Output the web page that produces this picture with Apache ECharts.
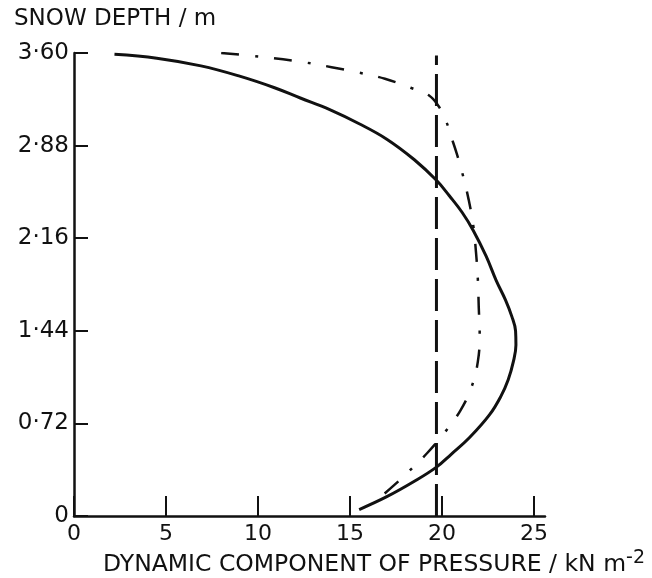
<!DOCTYPE html>
<html>
<head>
<meta charset="utf-8">
<script src="https://cdn.jsdelivr.net/npm/echarts@6/dist/echarts.min.js"></script>
<style>
html, body { margin: 0; padding: 0; background: #fff; }
#main { width: 652px; height: 578px; }
</style>
</head>
<body>
<div id="main"></div>
<script>
// tick values
var xTicks = [0, 5, 10, 15, 20, 25];
var yTicks = [0, 0.72, 1.44, 2.16, 2.88, 3.60];

// solid curve [pressure, depth]
var solidCurve = [
    [2.2, 3.59], [4.5, 3.56], [6.9, 3.50], [9.0, 3.42], [10.9, 3.33],
    [12.3, 3.25], [13.9, 3.16], [15.5, 3.05], [17.0, 2.93], [18.5, 2.77],
    [19.7, 2.61], [20.4, 2.49], [21.1, 2.36], [21.7, 2.22], [22.4, 2.02],
    [22.95, 1.83], [23.45, 1.68], [23.8, 1.55], [24.0, 1.44], [24.02, 1.33],
    [23.88, 1.20], [23.6, 1.06], [23.2, 0.93], [22.6, 0.79], [21.5, 0.61],
    [20.5, 0.48], [19.7, 0.38], [18.5, 0.27], [17.0, 0.15], [15.5, 0.05]
];

// dash-dot curve
var dashDotCurve = [
    [8.0, 3.60], [10.2, 3.57], [12.4, 3.53], [14.0, 3.49], [15.4, 3.45],
    [16.9, 3.40], [18.3, 3.33], [19.3, 3.27], [19.8, 3.19], [20.2, 3.08],
    [20.5, 2.95], [20.8, 2.82], [21.1, 2.67], [21.45, 2.46], [21.7, 2.26],
    [21.85, 2.05], [21.95, 1.84], [22.0, 1.62], [22.05, 1.41], [21.95, 1.20],
    [21.6, 1.00], [21.0, 0.82], [20.15, 0.65], [19.2, 0.49], [18.15, 0.34],
    [17.4, 0.24], [16.6, 0.14]
];

// vertical dashed line
var verticalLine = [[19.7, 0], [19.7, 3.58]];

var dom = document.getElementById("main");
var myChart = echarts.init(dom);
var option = null;

var font = 'DejaVu Sans';

option = {
    backgroundColor: '#fff',
    animation: false,
    title: [{
        text: 'SNOW DEPTH / m',
        left: 9,
        top: 3,
        textStyle: { fontFamily: font, fontWeight: 'normal', fontSize: 23, color: '#111' }
    }, {
        text: 'DYNAMIC COMPONENT OF PRESSURE / kN m{sup|-2}',
        left: 98,
        top: 544,
        textStyle: {
            fontFamily: font, fontWeight: 'normal', fontSize: 23.5, color: '#111',
            rich: {
                sup: { fontFamily: font, fontSize: 19, color: '#111', verticalAlign: 'top', padding: [0, 0, 12, 0] }
            }
        }
    }],
    grid: {
        left: 74,
        top: 53,
        width: 471,
        height: 463
    },
    xAxis: {
        type: 'value',
        min: 0,
        max: 25.6,
        splitLine: { show: false },
        axisLine: { lineStyle: { color: '#111', width: 2.5 } },
        axisTick: {
            inside: true,
            length: 20,
            customValues: xTicks,
            lineStyle: { color: '#111', width: 2 }
        },
        axisLabel: {
            customValues: xTicks,
            fontFamily: font,
            fontSize: 22,
            color: '#111',
            margin: 7
        }
    },
    yAxis: {
        type: 'value',
        min: 0,
        max: 3.6,
        splitLine: { show: false },
        axisLine: { lineStyle: { color: '#111', width: 2.5 } },
        axisTick: {
            inside: true,
            length: 14,
            customValues: yTicks,
            lineStyle: { color: '#111', width: 2 }
        },
        axisLabel: {
            customValues: yTicks,
            fontFamily: font,
            fontSize: 23,
            color: '#111',
            margin: 5,
            formatter: function (v) {
                return v === 0 ? '0' : v.toFixed(2).replace('.', '·');
            }
        }
    },
    series: [{
        name: 'solid',
        type: 'line',
        data: solidCurve,
        smooth: 0.4,
        symbol: 'none',
        lineStyle: { color: '#111', width: 3 }
    }, {
        name: 'dashdot',
        type: 'line',
        data: dashDotCurve,
        smooth: 0.4,
        symbol: 'none',
        lineStyle: { color: '#111', width: 2.5, type: [18, 16, 3, 16] }
    }, {
        name: 'vertical',
        type: 'line',
        data: verticalLine,
        symbol: 'none',
        lineStyle: { color: '#111', width: 3, type: [32, 9] }
    }]
};
if (option && typeof option === "object") {
    myChart.setOption(option, true);
}
</script>
</body>
</html>
